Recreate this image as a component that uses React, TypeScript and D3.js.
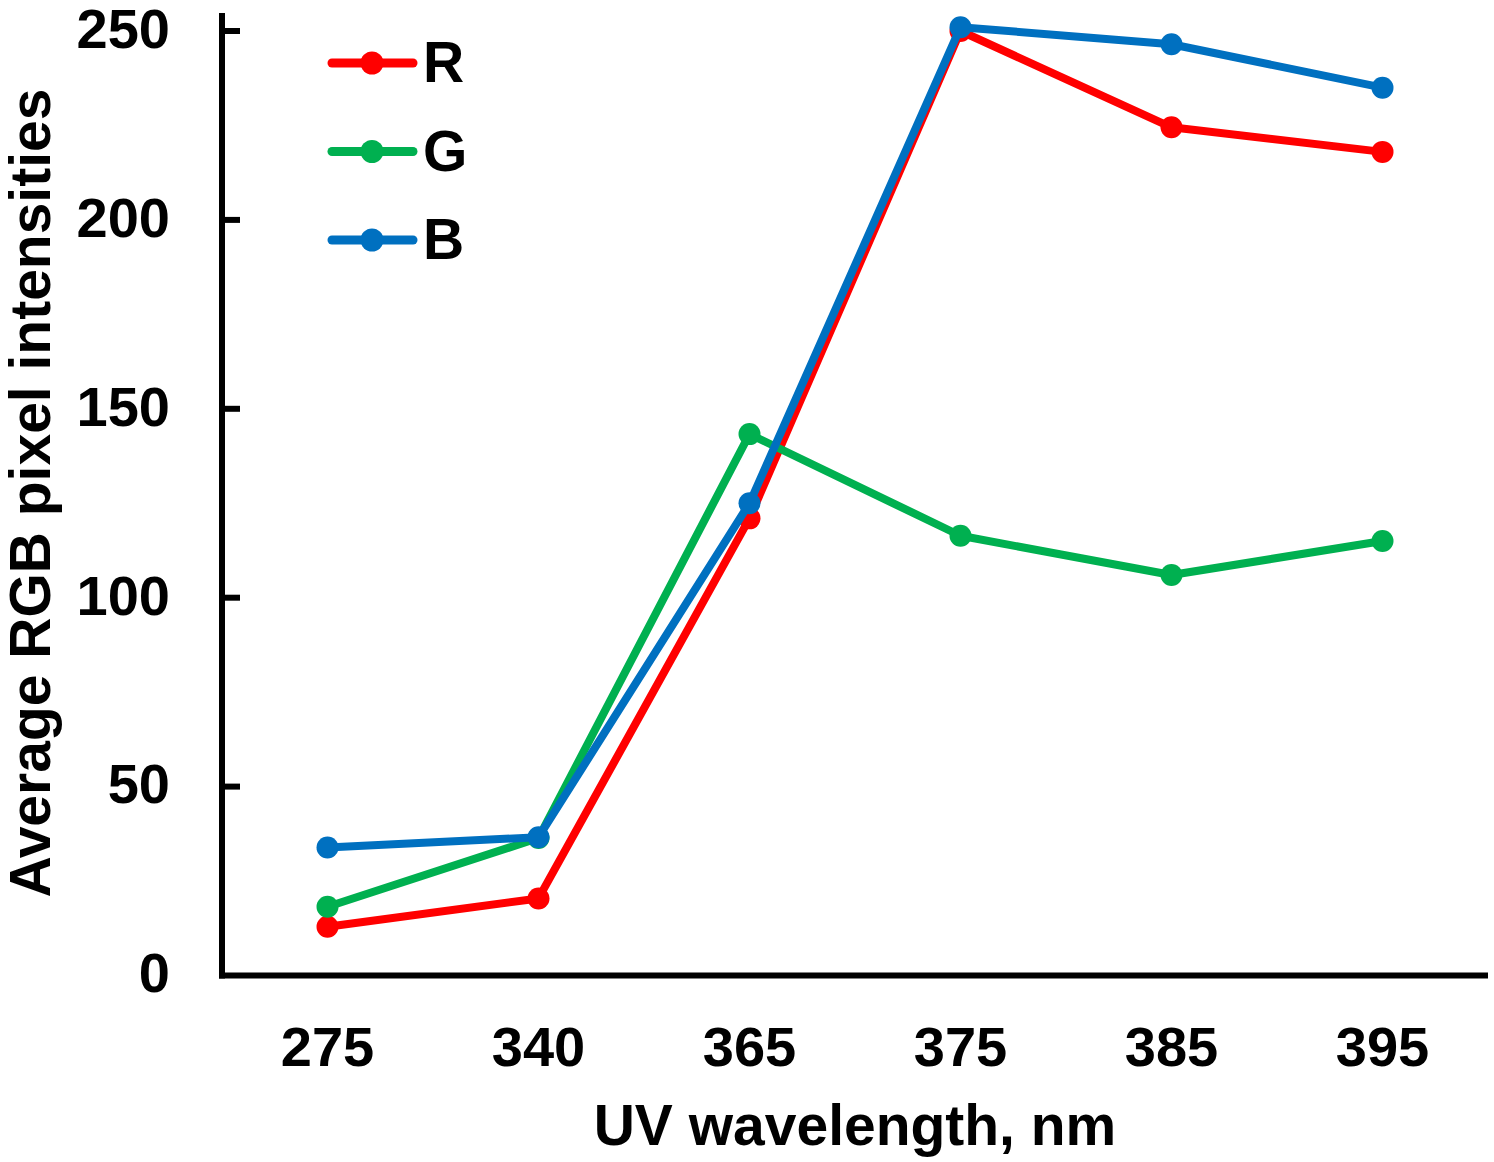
import { useEffect, useRef } from 'react';
import * as d3 from 'd3';

const wavelengths = ['275', '340', '365', '375', '385', '395'];
const redValues = [12.9, 20.4, 121, 250, 224.5, 218];
const greenValues = [18.2, 36.4, 143.3, 116.4, 106, 115];
const blueValues = [33.9, 36.6, 125, 251, 246.5, 235];
const seriesNames = ['R', 'G', 'B'];
const seriesColors = ['#FF0000', '#00B050', '#0070C0'];
const yTicks = [0, 50, 100, 150, 200, 250];

const App = () => {
  const chartRef = useRef<SVGSVGElement>(null);

  useEffect(() => {
    if (!chartRef.current) return;
    const svg = d3.select(chartRef.current);
    svg.selectAll('*').remove();

    const font = '"Liberation Sans", Arial, sans-serif';
    const left = 222;
    const right = 1488;
    const top = 31;
    const bottom = 975.5;

    const x = d3.scalePoint<string>().domain(wavelengths).range([left, right]).padding(0.5);
    const y = d3.scaleLinear().domain([0, 250]).range([bottom, top]);

    const series = [redValues, greenValues, blueValues].map((vals, i) => ({
      name: seriesNames[i],
      color: seriesColors[i],
      points: vals.map((v, j) => ({ cat: wavelengths[j], v })),
    }));

    // axes
    svg.append('line')
      .attr('x1', left).attr('x2', left)
      .attr('y1', 13).attr('y2', bottom + 3)
      .attr('stroke', '#000').attr('stroke-width', 6);
    svg.append('line')
      .attr('x1', left - 3).attr('x2', right)
      .attr('y1', bottom).attr('y2', bottom)
      .attr('stroke', '#000').attr('stroke-width', 6);

    // y ticks (inward) and labels
    const yt = svg.append('g');
    yt.selectAll('line')
      .data(yTicks.filter(t => t > 0))
      .join('line')
      .attr('x1', left).attr('x2', left + 18)
      .attr('y1', d => y(d)).attr('y2', d => y(d))
      .attr('stroke', '#000').attr('stroke-width', 6);
    yt.selectAll('text')
      .data(yTicks)
      .join('text')
      .attr('x', 170)
      .attr('y', d => y(d))
      .attr('dy', '0.3em')
      .attr('text-anchor', 'end')
      .style('font-family', font)
      .style('font-weight', 'bold')
      .style('font-size', '56px')
      .text(d => d);

    // x labels
    svg.append('g').selectAll('text')
      .data(wavelengths)
      .join('text')
      .attr('x', d => x(d)!)
      .attr('y', 1066)
      .attr('text-anchor', 'middle')
      .style('font-family', font)
      .style('font-weight', 'bold')
      .style('font-size', '56px')
      .text(d => d);

    // axis titles
    svg.append('text')
      .attr('x', 855)
      .attr('y', 1145)
      .attr('text-anchor', 'middle')
      .style('font-family', font)
      .style('font-weight', 'bold')
      .style('font-size', '57px')
      .text('UV wavelength, nm');

    svg.append('text')
      .attr('transform', 'translate(50,493) rotate(-90)')
      .attr('text-anchor', 'middle')
      .style('font-family', font)
      .style('font-weight', 'bold')
      .style('font-size', '57px')
      .text('Average RGB pixel intensities');

    // lines + markers
    const line = d3.line<{ cat: string; v: number }>()
      .x(d => x(d.cat)!)
      .y(d => y(d.v));

    series.forEach(s => {
      const g = svg.append('g');
      g.append('path')
        .datum(s.points)
        .attr('fill', 'none')
        .attr('stroke', s.color)
        .attr('stroke-width', 8)
        .attr('stroke-linejoin', 'round')
        .attr('d', line);
      g.selectAll('circle')
        .data(s.points)
        .join('circle')
        .attr('cx', d => x(d.cat)!)
        .attr('cy', d => y(d.v))
        .attr('r', 11)
        .attr('fill', s.color);
    });

    // legend
    const legend = svg.append('g');
    series.forEach((s, i) => {
      const ly = 63 + i * 88.5;
      legend.append('line')
        .attr('x1', 332).attr('x2', 413)
        .attr('y1', ly).attr('y2', ly)
        .attr('stroke', s.color)
        .attr('stroke-width', 9)
        .attr('stroke-linecap', 'round');
      legend.append('circle')
        .attr('cx', 372).attr('cy', ly)
        .attr('r', 11.5)
        .attr('fill', s.color);
      legend.append('text')
        .attr('x', 423)
        .attr('y', ly + 19)
        .style('font-family', font)
        .style('font-weight', 'bold')
        .style('font-size', '57px')
        .text(s.name);
    });
  }, []);

  return (
    <svg
      ref={chartRef}
      width={1494}
      height={1162}
      style={{ position: 'absolute', left: 0, top: 0, background: '#fff' }}
    />
  );
};

export default App;
